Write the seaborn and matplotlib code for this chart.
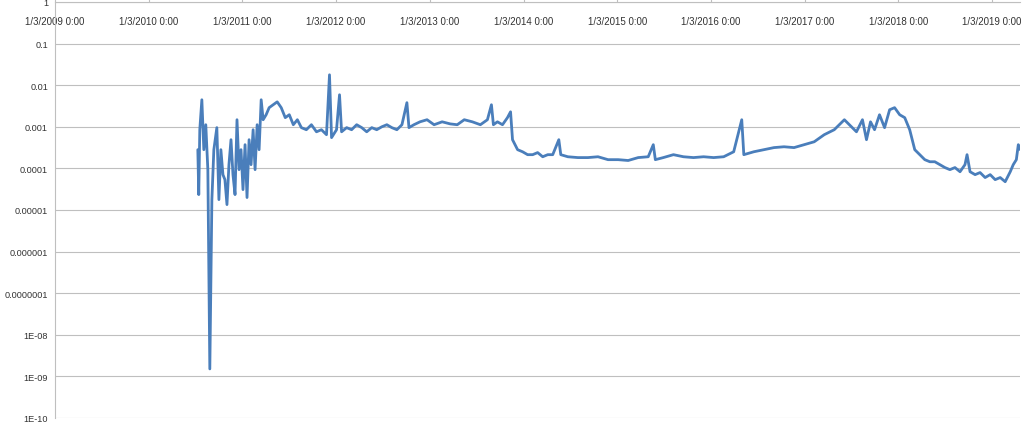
import numpy as np
import pandas as pd
import matplotlib
matplotlib.use("Agg")
import matplotlib.pyplot as plt
import seaborn as sns

# years since 1/3/2009 and log10 of the value
years_since_2009 = [
    1.524, 1.534, 1.545, 1.567, 1.588, 1.609, 1.631, 1.652, 1.674, 1.695, 1.727, 1.749,
    1.770, 1.792, 1.813, 1.835, 1.856, 1.878, 1.899, 1.921, 1.942, 1.964, 1.985, 2.006,
    2.028, 2.049, 2.071, 2.092, 2.114, 2.135, 2.157, 2.178, 2.200, 2.221, 2.253, 2.285,
    2.328, 2.371, 2.414, 2.457, 2.500, 2.543, 2.586, 2.629, 2.682, 2.736, 2.790, 2.843,
    2.897, 2.929, 2.951, 3.004, 3.036, 3.058, 3.112, 3.165, 3.219, 3.273, 3.326, 3.380,
    3.433, 3.487, 3.541, 3.594, 3.648, 3.702, 3.755, 3.777, 3.830, 3.895, 3.970, 4.045,
    4.131, 4.217, 4.292, 4.367, 4.453, 4.539, 4.614, 4.657, 4.678, 4.721, 4.775, 4.828,
    4.861, 4.882, 4.936, 4.989, 5.043, 5.097, 5.150, 5.204, 5.258, 5.311, 5.376, 5.397,
    5.472, 5.579, 5.687, 5.794, 5.901, 6.009, 6.116, 6.223, 6.330, 6.384, 6.406, 6.491,
    6.599, 6.706, 6.813, 6.921, 7.028, 7.135, 7.242, 7.328, 7.350, 7.457, 7.564, 7.672,
    7.779, 7.886, 7.994, 8.101, 8.208, 8.315, 8.423, 8.476, 8.552, 8.616, 8.659, 8.702,
    8.745, 8.798, 8.852, 8.906, 8.959, 9.013, 9.067, 9.120, 9.174, 9.227, 9.281, 9.335,
    9.388, 9.442, 9.496, 9.549, 9.603, 9.657, 9.710, 9.732, 9.764, 9.818, 9.871, 9.925,
    9.979, 10.032, 10.086, 10.139, 10.193, 10.225, 10.258, 10.279, 10.300,
]
log10_value = [
    -3.55, -4.63, -3.07, -2.35, -3.55, -2.95, -4.03, -8.82, -4.75, -3.55, -3.02, -4.75,
    -3.55, -4.15, -4.27, -4.87, -3.91, -3.31, -4.15, -4.63, -2.83, -4.03, -3.55, -4.51,
    -3.43, -4.70, -3.31, -3.91, -3.07, -4.03, -2.95, -3.55, -2.35, -2.83, -2.71, -2.54,
    -2.47, -2.40, -2.54, -2.78, -2.71, -2.95, -2.83, -3.02, -3.07, -2.95, -3.12, -3.07,
    -3.19, -1.75, -3.26, -3.07, -2.23, -3.12, -3.02, -3.07, -2.95, -3.02, -3.12, -3.02,
    -3.07, -3.00, -2.95, -3.02, -3.07, -2.95, -2.42, -3.02, -2.95, -2.88, -2.83, -2.95,
    -2.88, -2.93, -2.95, -2.83, -2.88, -2.95, -2.83, -2.47, -2.95, -2.88, -2.95, -2.78,
    -2.64, -3.31, -3.55, -3.60, -3.67, -3.67, -3.62, -3.72, -3.67, -3.67, -3.31, -3.67,
    -3.72, -3.74, -3.74, -3.72, -3.79, -3.79, -3.81, -3.74, -3.72, -3.43, -3.79, -3.74,
    -3.67, -3.72, -3.74, -3.72, -3.74, -3.72, -3.60, -2.83, -3.67, -3.60, -3.55, -3.50,
    -3.48, -3.50, -3.43, -3.36, -3.19, -3.07, -2.83, -2.95, -3.12, -2.83, -3.31, -2.88,
    -3.07, -2.71, -3.02, -2.59, -2.54, -2.71, -2.78, -3.07, -3.55, -3.67, -3.79, -3.84,
    -3.84, -3.91, -3.98, -4.03, -3.98, -4.08, -3.91, -3.67, -4.08, -4.15, -4.10, -4.22,
    -4.15, -4.27, -4.22, -4.32, -4.08, -3.91, -3.79, -3.43, -3.55,
]

year_ticks = list(range(2009, 2020))
y_ticks = [1e-10, 1e-9, 1e-8, 1e-7, 1e-6, 1e-5, 1e-4, 1e-3, 1e-2, 1e-1, 1]
y_tick_labels = ["1E-10", "1E-09", "1E-08", "0.0000001", "0.000001", "0.00001",
                 "0.0001", "0.001", "0.01", "0.1", "1"]

start = pd.Timestamp("2009-01-03")
df = pd.DataFrame({
    "date": start + pd.to_timedelta(np.array(years_since_2009) * 365.25, unit="D"),
    "value": 10.0 ** np.array(log10_value),
})

sns.set_style("white")
plt.rcParams['font.family'] = ['Liberation Sans', 'DejaVu Sans']

fig = plt.figure(figsize=(10.24, 4.27), dpi=100)
ax = fig.add_axes([55 / 1024, 1 - 419 / 427, 965 / 1024, 416 / 427])
sns.lineplot(data=df, x="date", y="value", ax=ax, color="#4a7ebb", linewidth=2)

ax.set_yscale("log")
ax.set_ylim(1e-10, 1)
ax.set_yticks(y_ticks)
ax.set_yticklabels(y_tick_labels)
ax.minorticks_off()
ax.yaxis.grid(True, color="#bfbfbf", linewidth=0.8)

xt = [pd.Timestamp(f"{y}-01-03") for y in year_ticks]
ax.set_xlim(start, pd.Timestamp("2019-04-22"))
ax.set_xticks(xt)
ax.set_xticklabels([f"1/3/{y} 0:00" for y in year_ticks])
ax.xaxis.tick_top()
ax.tick_params(axis="x", direction="out", length=4, pad=-14, colors="#bfbfbf",
               labelsize=7, labelcolor="#333333")
ax.tick_params(axis="y", length=3, pad=2, colors="#bfbfbf", labelsize=6.6,
               labelcolor="#333333")
for lbl in ax.get_xticklabels():
    lbl.set_verticalalignment("top")
ax.set_xlabel("")
ax.set_ylabel("")

for side in ["right", "bottom"]:
    ax.spines[side].set_visible(False)
ax.spines["top"].set_color("#bfbfbf")
ax.spines["left"].set_color("#bfbfbf")

fig.savefig("out.png", dpi=100)
